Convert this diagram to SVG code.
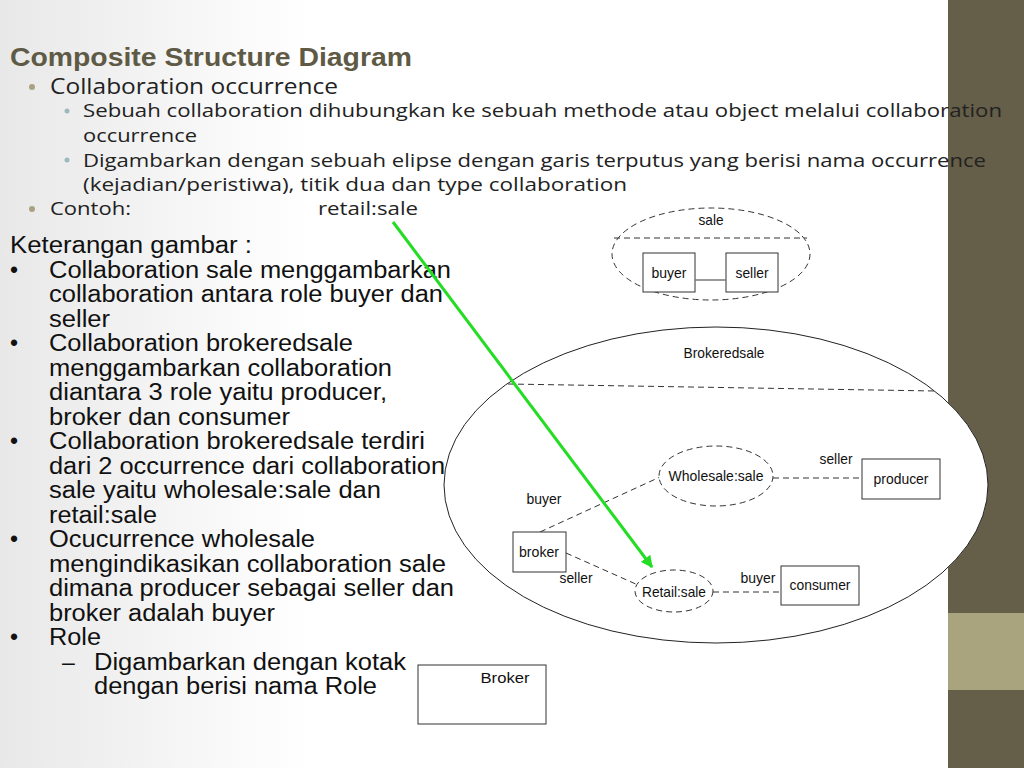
<svg xmlns="http://www.w3.org/2000/svg" width="1024" height="768" viewBox="0 0 1024 768">
<defs>
<linearGradient id="bg" x1="0" y1="0" x2="1" y2="0">
<stop offset="0" stop-color="#e8e8e8"/>
<stop offset="0.3" stop-color="#ffffff"/>
<stop offset="1" stop-color="#ffffff"/>
</linearGradient>
<marker id="ah" viewBox="0 0 10 10" refX="9" refY="5" markerWidth="4" markerHeight="4" orient="auto" markerUnits="strokeWidth">
<path d="M0,0 L10,5 L0,10 z" fill="#22dd22"/>
</marker>
<style>
.ttl{font-family:"Liberation Sans",Arial,sans-serif;font-weight:bold;font-size:25px;fill:#5f5a45}
.b1{font-family:"Open Sans","Noto Sans",sans-serif;font-size:22px;fill:#222}
.b2{font-family:"Open Sans","Noto Sans",sans-serif;font-size:19px;fill:#222}
.dot{fill:#a8a283}
.dot2{fill:#9fb8c0}
.lt{font-family:"Liberation Sans",Arial,sans-serif;font-size:23px;fill:#111}
.dc{font-family:"Liberation Sans",Arial,sans-serif;font-size:15px;fill:#111;text-anchor:middle}
.box{fill:#fff;stroke:#333;stroke-width:1}
.dash{fill:none;stroke:#333;stroke-width:1;stroke-dasharray:6,4}
.dashe{fill:#fff;stroke:#333;stroke-width:1;stroke-dasharray:6,4}
</style>
</defs>
<rect x="0" y="0" width="1024" height="768" fill="url(#bg)"/>
<rect x="948" y="0" width="76" height="768" fill="#655e48"/>
<rect x="948" y="613" width="76" height="77" fill="#aaa47e"/>

<g id="header">
<text class="ttl" x="10" y="66" textLength="402" lengthAdjust="spacingAndGlyphs">Composite Structure Diagram</text>
<circle class="dot" cx="32" cy="87" r="3"/>
<text class="b1" x="50" y="94" textLength="288" lengthAdjust="spacingAndGlyphs">Collaboration occurrence</text>
<circle class="dot2" cx="67" cy="111" r="2.5"/>
<text class="b2" x="83" y="117" textLength="919" lengthAdjust="spacingAndGlyphs">Sebuah collaboration dihubungkan ke sebuah methode atau object melalui collaboration</text>
<text class="b2" x="83" y="142" textLength="114" lengthAdjust="spacingAndGlyphs">occurrence</text>
<circle class="dot2" cx="67" cy="160" r="2.5"/>
<text class="b2" x="83" y="167" textLength="903" lengthAdjust="spacingAndGlyphs">Digambarkan dengan sebuah elipse dengan garis terputus yang berisi nama occurrence</text>
<text class="b2" x="83" y="191" textLength="544" lengthAdjust="spacingAndGlyphs">(kejadian/peristiwa), titik dua dan type collaboration</text>
<circle class="dot" cx="32" cy="209" r="3"/>
<text class="b2" x="50" y="215" textLength="81" lengthAdjust="spacingAndGlyphs">Contoh:</text>
<text class="b2" x="318" y="215" textLength="100" lengthAdjust="spacingAndGlyphs">retail:sale</text>
</g>

<g id="keterangan">
<text class="lt" x="10" y="253" textLength="242" lengthAdjust="spacingAndGlyphs">Keterangan gambar :</text>
<text class="lt" x="10" y="278">•</text>
<text class="lt" x="49" y="278" textLength="402" lengthAdjust="spacingAndGlyphs">Collaboration sale menggambarkan</text>
<text class="lt" x="49" y="302" textLength="394" lengthAdjust="spacingAndGlyphs">collaboration antara role buyer dan</text>
<text class="lt" x="49" y="327" textLength="61" lengthAdjust="spacingAndGlyphs">seller</text>
<text class="lt" x="10" y="351">•</text>
<text class="lt" x="49" y="351" textLength="304" lengthAdjust="spacingAndGlyphs">Collaboration brokeredsale</text>
<text class="lt" x="49" y="376" textLength="343" lengthAdjust="spacingAndGlyphs">menggambarkan collaboration</text>
<text class="lt" x="49" y="400" textLength="338" lengthAdjust="spacingAndGlyphs">diantara 3 role yaitu producer,</text>
<text class="lt" x="49" y="425" textLength="241" lengthAdjust="spacingAndGlyphs">broker dan consumer</text>
<text class="lt" x="10" y="449">•</text>
<text class="lt" x="49" y="449" textLength="376" lengthAdjust="spacingAndGlyphs">Collaboration brokeredsale terdiri</text>
<text class="lt" x="49" y="474" textLength="396" lengthAdjust="spacingAndGlyphs">dari 2 occurrence dari collaboration</text>
<text class="lt" x="49" y="498" textLength="332" lengthAdjust="spacingAndGlyphs">sale yaitu wholesale:sale dan</text>
<text class="lt" x="49" y="523" textLength="108" lengthAdjust="spacingAndGlyphs">retail:sale</text>
<text class="lt" x="10" y="547">•</text>
<text class="lt" x="49" y="547" textLength="266" lengthAdjust="spacingAndGlyphs">Ocucurrence wholesale</text>
<text class="lt" x="49" y="572" textLength="397" lengthAdjust="spacingAndGlyphs">mengindikasikan collaboration sale</text>
<text class="lt" x="49" y="596" textLength="405" lengthAdjust="spacingAndGlyphs">dimana producer sebagai seller dan</text>
<text class="lt" x="49" y="621" textLength="226" lengthAdjust="spacingAndGlyphs">broker adalah buyer</text>
<text class="lt" x="10" y="645">•</text>
<text class="lt" x="49" y="645" textLength="52" lengthAdjust="spacingAndGlyphs">Role</text>
<text class="lt" x="62" y="670">–</text>
<text class="lt" x="94" y="670" textLength="312" lengthAdjust="spacingAndGlyphs">Digambarkan dengan kotak</text>
<text class="lt" x="94" y="694" textLength="283" lengthAdjust="spacingAndGlyphs">dengan berisi nama Role</text>
</g>

<g id="sale">
<ellipse class="dashe" cx="711" cy="254" rx="99" ry="46"/>
<line class="dash" x1="614" y1="238" x2="807" y2="238"/>
<text class="dc" x="711" y="225" textLength="25" lengthAdjust="spacingAndGlyphs">sale</text>
</g>
<g id="sale-buyer">
<rect class="box" x="643" y="253" width="52" height="39"/>
<text class="dc" x="669" y="278" textLength="35" lengthAdjust="spacingAndGlyphs">buyer</text>
</g>
<g id="sale-seller">
<rect class="box" x="726" y="253" width="52" height="39"/>
<text class="dc" x="752" y="278" textLength="33" lengthAdjust="spacingAndGlyphs">seller</text>
</g>

<g id="brokeredsale">
<ellipse cx="716" cy="485" rx="272" ry="158" fill="#fff" stroke="#222" stroke-width="1"/>
<line class="dash" x1="508" y1="384" x2="935" y2="391"/>
<text class="dc" x="724" y="358" textLength="81" lengthAdjust="spacingAndGlyphs">Brokeredsale</text>
</g>

<g id="connectors">
<line x1="695" y1="280" x2="726" y2="280" stroke="#777" stroke-width="1.5"/>
<line class="dash" x1="773" y1="478" x2="862" y2="478"/>
<line class="dash" x1="540" y1="532" x2="660" y2="477"/>
<line class="dash" x1="566" y1="553" x2="638" y2="585"/>
<line class="dash" x1="713" y1="592" x2="781" y2="592"/>
<text class="dc" x="836" y="464" textLength="33" lengthAdjust="spacingAndGlyphs">seller</text>
<text class="dc" x="544" y="504" textLength="35" lengthAdjust="spacingAndGlyphs">buyer</text>
<text class="dc" x="576" y="583" textLength="33" lengthAdjust="spacingAndGlyphs">seller</text>
<text class="dc" x="758" y="583" textLength="35" lengthAdjust="spacingAndGlyphs">buyer</text>
</g>

<g id="wholesale">
<ellipse class="dashe" cx="716" cy="476" rx="57" ry="30"/>
<text class="dc" x="716" y="481" textLength="95" lengthAdjust="spacingAndGlyphs">Wholesale:sale</text>
</g>
<g id="producer">
<rect class="box" x="862" y="459" width="78" height="40"/>
<text class="dc" x="901" y="484" textLength="55" lengthAdjust="spacingAndGlyphs">producer</text>
</g>
<g id="broker">
<rect class="box" x="513" y="532" width="53" height="40"/>
<text class="dc" x="539" y="557" textLength="40" lengthAdjust="spacingAndGlyphs">broker</text>
</g>
<g id="retail">
<ellipse class="dashe" cx="674" cy="591" rx="39" ry="21"/>
<text class="dc" x="674" y="597" textLength="64" lengthAdjust="spacingAndGlyphs">Retail:sale</text>
</g>
<g id="consumer">
<rect class="box" x="781" y="566" width="78" height="39"/>
<text class="dc" x="820" y="590" textLength="61" lengthAdjust="spacingAndGlyphs">consumer</text>
</g>

<g id="role-example">
<rect class="box" x="418" y="665" width="128" height="59"/>
<text class="dc" x="505" y="683" textLength="49" lengthAdjust="spacingAndGlyphs">Broker</text>
</g>

<g id="arrow">
<line x1="393" y1="222" x2="652" y2="567" stroke="#22dd22" stroke-width="3" marker-end="url(#ah)"/>
</g>
</svg>
